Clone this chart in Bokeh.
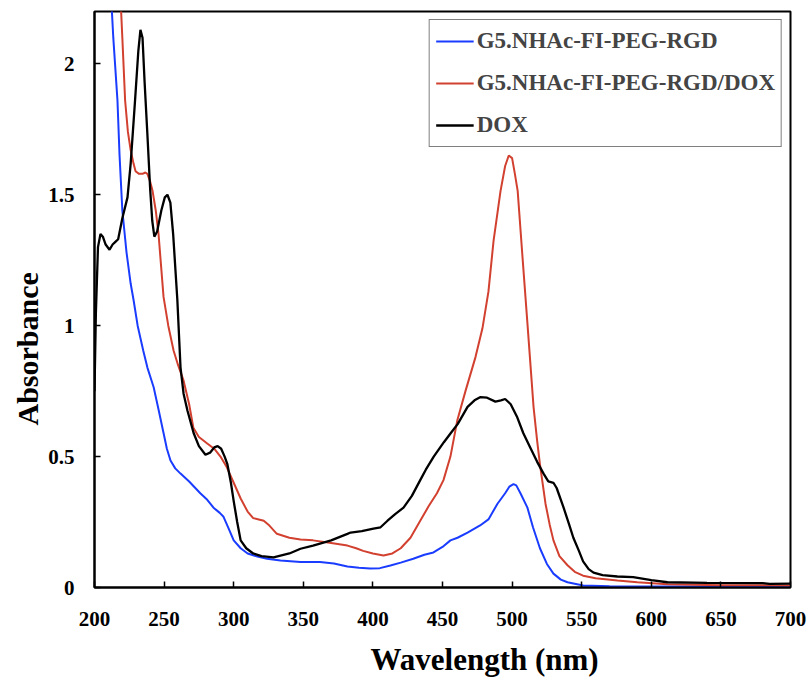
from bokeh.plotting import figure
from bokeh.models import FixedTicker, Legend, LegendItem, Range1d, Title
from bokeh.embed import file_html
from bokeh.resources import INLINE

# ---- data ----
dox_wl = [200, 201, 202.5, 204.3, 206, 208, 210.8, 213, 215, 217, 220, 223.7, 226, 229, 231.5,
          233, 234.5, 236, 238, 240, 241.5, 243, 245, 248, 250.5, 252.4, 254.5, 256.5, 259.5,
          261.8, 264, 266.8, 271.2, 275, 279.7, 283, 286, 288.5, 291, 293.5, 295.5, 298, 300,
          302.5, 305, 309, 314, 320, 328.6, 340, 348, 357, 370, 381.7, 384, 392, 400.4, 405.5,
          410.5, 416, 422, 428, 434, 438, 443.7, 451, 456, 461, 468, 473, 477, 482, 488, 492,
          495, 499, 503.7, 508, 513, 518, 522.6, 526, 529.7, 532, 537, 541, 544, 548, 551, 555,
          558.5, 565, 575.6, 587, 600, 611.6, 640, 680, 685, 700]
dox_abs = [0.75, 1.05, 1.30, 1.35, 1.34, 1.31, 1.29, 1.31, 1.32, 1.33, 1.41, 1.49, 1.62, 1.85, 2.05,
           2.13, 2.10, 1.93, 1.73, 1.52, 1.40, 1.34, 1.36, 1.44, 1.49, 1.50, 1.47, 1.35, 1.10,
           0.84, 0.74, 0.675, 0.59, 0.54, 0.507, 0.515, 0.535, 0.54, 0.53, 0.50, 0.47, 0.40, 0.33,
           0.25, 0.18, 0.15, 0.13, 0.12, 0.115, 0.13, 0.148, 0.16, 0.18, 0.205, 0.21, 0.215, 0.225, 0.23,
           0.255, 0.28, 0.305, 0.35, 0.41, 0.45, 0.50, 0.555, 0.59, 0.625, 0.69, 0.715, 0.727, 0.725, 0.71, 0.715,
           0.72, 0.70, 0.65, 0.59, 0.535, 0.48, 0.435, 0.405, 0.40, 0.38, 0.305, 0.24, 0.19, 0.14, 0.10, 0.07,
           0.057, 0.047, 0.042, 0.04, 0.028, 0.02, 0.018, 0.017, 0.014, 0.015]

rgd_dox_wl = [218.7, 220, 222, 224, 226, 228, 229.5, 232, 234.5, 236.5, 238, 240, 241.7, 244, 246,
              249.6, 253, 256.8, 260, 264, 268, 271, 275, 281, 286, 290.5, 295, 300, 305, 310, 314,
              318, 321.6, 325, 331, 340, 348, 357, 370, 381.7, 388, 393, 400, 407.6, 414, 420, 427,
              434, 440, 446, 450.7, 455.7, 460.7, 466.5, 473.7, 478.7, 483, 486.7, 491.7, 495, 497.6,
              500, 502, 504, 507.5, 511, 515.4, 518, 520, 524, 527, 529.7, 534, 539.8, 545, 551, 560,
              575.7, 590, 611.6, 650, 700]
rgd_dox_abs = [2.25, 2.10, 1.86, 1.74, 1.67, 1.62, 1.59, 1.58, 1.58, 1.585, 1.58, 1.55, 1.515, 1.44, 1.35,
               1.11, 1.00, 0.905, 0.85, 0.79, 0.70, 0.61, 0.575, 0.55, 0.53, 0.50, 0.46, 0.40, 0.34, 0.29, 0.265,
               0.26, 0.255, 0.24, 0.205, 0.19, 0.183, 0.18, 0.17, 0.16, 0.15, 0.14, 0.13, 0.122, 0.13, 0.15, 0.19,
               0.255, 0.31, 0.36, 0.41, 0.50, 0.64, 0.75, 0.88, 0.99, 1.13, 1.325, 1.515, 1.61, 1.65,
               1.64, 1.58, 1.515, 1.26, 1.01, 0.69, 0.56, 0.47, 0.32, 0.24, 0.18, 0.12, 0.085, 0.06, 0.045, 0.035,
               0.027, 0.02, 0.012, 0.009, 0.008]

rgd_wl = [212, 213.5, 216.5, 218, 220, 223, 226, 228, 231, 235, 238, 242.5, 246, 249.6, 252, 254.6,
          258, 261.8, 268, 276, 281, 285.5, 290, 292.7, 296, 300, 305, 310, 317, 324, 333.6, 348, 362,
          372, 381.7, 390, 398, 405, 412.6, 420, 429, 437, 443.5, 450, 455.7, 460.8, 468, 477, 483,
          489.5, 495, 498, 501, 503, 506, 511, 515, 520, 525, 529.7, 535, 539.8, 551, 570, 620, 700]
rgd_abs = [2.25, 2.10, 1.86, 1.65, 1.44, 1.28, 1.16, 1.10, 1.00, 0.905, 0.84, 0.765, 0.68, 0.59, 0.53, 0.485,
           0.455, 0.435, 0.405, 0.36, 0.335, 0.305, 0.285, 0.27, 0.23, 0.18, 0.15, 0.13, 0.118, 0.11, 0.103, 0.097, 0.097,
           0.092, 0.08, 0.075, 0.073, 0.074, 0.084, 0.095, 0.11, 0.125, 0.134, 0.155, 0.18, 0.19, 0.21, 0.237, 0.26,
           0.32, 0.36, 0.385, 0.395, 0.39, 0.36, 0.305, 0.23, 0.15, 0.09, 0.053, 0.03, 0.02, 0.008, 0.005, 0.004, 0.003]

series_names = ["G5.NHAc-FI-PEG-RGD", "G5.NHAc-FI-PEG-RGD/DOX", "DOX"]
x_ticks = [200, 250, 300, 350, 400, 450, 500, 550, 600, 650, 700]
y_ticks = [0, 0.5, 1, 1.5, 2]
y_tick_labels = {0: "0", 0.5: "0.5", 1: "1", 1.5: "1.5", 2: "2"}
x_title = "Wavelength (nm)"
y_title = "Absorbance"

FONT = "Liberation Serif"

p = figure(width=810, height=688, output_backend="svg", toolbar_location=None,
           x_range=Range1d(200, 700), y_range=Range1d(0, 2.2))
p.min_border_left = 94
p.min_border_right = 20
p.min_border_top = 11
p.min_border_bottom = 101
p.background_fill_color = "white"
p.border_fill_color = "white"
p.grid.visible = False
p.outline_line_color = "black"
p.outline_line_width = 2

r_blue = p.line(rgd_wl, rgd_abs, line_color="#1a3cff", line_width=2)
r_red = p.line(rgd_dox_wl, rgd_dox_abs, line_color="#d2402f", line_width=2)
r_black = p.line(dox_wl, dox_abs, line_color="black", line_width=2.3)

for ax in (p.xaxis[0], p.yaxis[0]):
    ax.axis_line_width = 2
    ax.axis_line_color = "black"
    ax.major_tick_in = 6
    ax.major_tick_out = 0
    ax.minor_tick_line_color = None
    ax.major_tick_line_width = 1.5
    ax.major_label_text_font = FONT
    ax.major_label_text_font_style = "bold"
    ax.major_label_text_font_size = "21px"
    ax.major_label_text_color = "black"

p.xaxis.ticker = FixedTicker(ticks=x_ticks)
p.yaxis.ticker = FixedTicker(ticks=y_ticks)
p.yaxis.major_label_overrides = y_tick_labels
p.xaxis.major_label_standoff = 24
p.yaxis.major_label_standoff = 20

xt = Title(text=x_title, text_font=FONT, text_font_style="bold", text_font_size="31px",
           align="left", offset=276, standoff=23, vertical_align="bottom",
           text_line_height=0.6, text_color="black")
yt = Title(text=y_title, text_font=FONT, text_font_style="bold", text_font_size="30px",
           align="left", offset=162, standoff=4, text_color="black")
p.add_layout(xt, "below")
p.add_layout(yt, "left")

legend = Legend(items=[LegendItem(label=series_names[0], renderers=[r_blue]),
                       LegendItem(label=series_names[1], renderers=[r_red]),
                       LegendItem(label=series_names[2], renderers=[r_black])],
                location="top_right")
legend.margin = 8
legend.padding = 6
legend.spacing = 12
legend.glyph_width = 38
legend.glyph_height = 30
legend.label_height = 30
legend.label_standoff = 3
legend.label_text_font = FONT
legend.label_text_font_style = "bold"
legend.label_text_font_size = "23px"
legend.border_line_color = "black"
legend.border_line_width = 1.5
legend.background_fill_alpha = 1
p.add_layout(legend)

open("out.html", "w").write(file_html(p, INLINE))
